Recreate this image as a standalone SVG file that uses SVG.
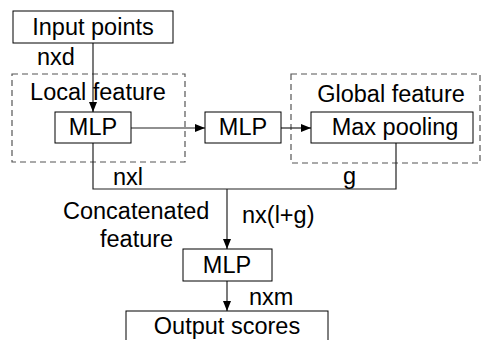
<svg xmlns="http://www.w3.org/2000/svg" width="484" height="340" viewBox="0 0 484 340">
<defs>
<marker id="ah" markerWidth="10" markerHeight="8" refX="10" refY="4" orient="auto" markerUnits="userSpaceOnUse">
<path d="M0,0 L10,4 L0,8 Z" fill="#000"/>
</marker>
<style>
text{font-family:"Liberation Sans",Arial,sans-serif;font-size:23.5px;fill:#000}
.box{fill:#fff;stroke:#000;stroke-width:1}
.dash{fill:none;stroke:#555;stroke-width:1.2;stroke-dasharray:6,4}
.ln{fill:none;stroke:#222;stroke-width:1.2}
.c{text-anchor:middle}
</style>
</defs>
<rect width="484" height="340" fill="#fff"/>
<g id="local-group">
<rect class="dash" x="12" y="74" width="173" height="88"/>
<text class="c" x="98" y="100">Local feature</text>
</g>
<g id="global-group">
<rect class="dash" x="291" y="74" width="189" height="89"/>
<text class="c" x="391" y="102">Global feature</text>
</g>
<g id="connectors">
<line class="ln" x1="93" y1="43" x2="93" y2="112" marker-end="url(#ah)"/>
<line class="ln" x1="131" y1="128" x2="205" y2="128" marker-end="url(#ah)"/>
<line class="ln" x1="281" y1="128" x2="311" y2="128" marker-end="url(#ah)"/>
<polyline class="ln" points="93,143 93,189 396,189 396,143"/>
<line class="ln" x1="227" y1="189" x2="227" y2="249" marker-end="url(#ah)"/>
<line class="ln" x1="227" y1="281" x2="227" y2="311" marker-end="url(#ah)"/>
<text x="37" y="65">nxd</text>
<text x="113" y="185">nxl</text>
<text x="343" y="184">g</text>
<text x="242" y="223">nx(l+g)</text>
<text x="63" y="219">Concatenated</text>
<text x="100" y="247">feature</text>
<text x="249" y="305">nxm</text>
</g>
<g id="input">
<rect class="box" x="13" y="11" width="160" height="32"/>
<text class="c" x="93" y="35">Input points</text>
</g>
<g id="mlp1">
<rect class="box" x="55" y="112" width="76" height="31"/>
<text class="c" x="93" y="135">MLP</text>
</g>
<g id="mlp2">
<rect class="box" x="205" y="112" width="76" height="31"/>
<text class="c" x="243" y="135">MLP</text>
</g>
<g id="maxpool">
<rect class="box" x="311" y="112" width="162" height="31"/>
<text class="c" x="395" y="135">Max pooling</text>
</g>
<g id="mlp3">
<rect class="box" x="183" y="249" width="89" height="32"/>
<text class="c" x="227" y="273">MLP</text>
</g>
<g id="output">
<rect class="box" x="126" y="311" width="202" height="40"/>
<text class="c" x="227" y="334">Output scores</text>
</g>
</svg>
